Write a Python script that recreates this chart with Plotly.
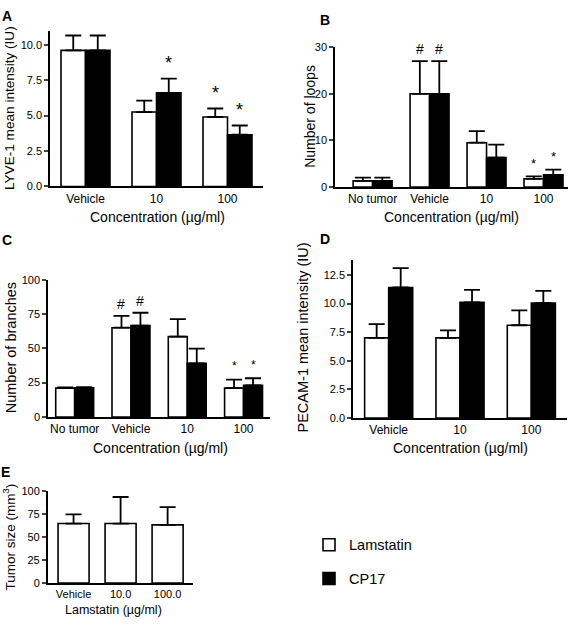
import plotly.graph_objects as go

# ---------------- data ----------------
a_cats = ["Vehicle", "10", "100"]
a_lam = [9.6, 5.25, 4.9]
a_lam_sem = [1.05, 0.8, 0.6]
a_cp17 = [9.6, 6.6, 3.65]
a_cp17_sem = [1.05, 1.0, 0.65]

b_cats = ["No tumor", "Vehicle", "10", "100"]
b_lam = [1.3, 20.0, 9.5, 1.75]
b_lam_sem = [0.7, 7.0, 2.5, 0.5]
b_cp17 = [1.3, 20.0, 6.3, 2.6]
b_cp17_sem = [0.7, 7.0, 2.8, 1.1]

c_cats = ["No tumor", "Vehicle", "10", "100"]
c_lam = [21.0, 65.0, 58.5, 21.0]
c_lam_sem = [0.5, 8.6, 12.7, 6.2]
c_cp17 = [21.2, 66.5, 39.0, 23.0]
c_cp17_sem = [0.5, 9.4, 10.8, 5.2]

d_cats = ["Vehicle", "10", "100"]
d_lam = [7.0, 7.0, 8.1]
d_lam_sem = [1.2, 0.65, 1.3]
d_cp17 = [11.4, 10.1, 10.05]
d_cp17_sem = [1.7, 1.1, 1.05]

e_cats = ["Vehicle", "10.0", "100.0"]
e_lam = [65.0, 65.0, 63.5]
e_lam_sem = [10.0, 29.0, 19.5]

# significance marks: (category, series, symbol)
a_marks = [("10", "cp17", "*"), ("100", "lam", "*"), ("100", "cp17", "*")]
b_marks = [("Vehicle", "lam", "#"), ("Vehicle", "cp17", "#"), ("100", "lam", "*"), ("100", "cp17", "*")]
c_marks = [("Vehicle", "lam", "#"), ("Vehicle", "cp17", "#"), ("100", "lam", "*"), ("100", "cp17", "*")]

# ---------------- layout helpers ----------------
W, H = 572, 625
FONT = "Liberation Sans, Arial, Helvetica, sans-serif"


def xd(a, b):
    return [a / W, b / W]


def yd(top, bottom):
    return [1 - bottom / H, 1 - top / H]


fig = go.Figure()

panels = {
    "A": dict(ax="", xdom=(50, 263), ydom=(25, 184), xr=[-0.5, 2.5], yr=[0, 11], dtick=2.5, fmt=".1f", bw=0.345),
    "B": dict(ax="2", xdom=(335, 568), ydom=(42, 184.5), xr=[-0.66, 3.43], yr=[0, 30], dtick=10, fmt="d", bw=0.342),
    "C": dict(ax="3", xdom=(48, 270), ydom=(279, 419), xr=[-0.474, 3.47], yr=[0, 100], dtick=25, fmt="d", bw=0.337),
    "D": dict(ax="4", xdom=(353, 567), ydom=(259, 420), xr=[-0.5, 2.5], yr=[0, 13.8], dtick=2.5, fmt=".1f", bw=0.337),
    "E": dict(ax="5", xdom=(47.7, 193), ydom=(495, 588.3), xr=[-0.55, 2.54], yr=[0, 100], dtick=25, fmt="d", bw=0.66),
}

LINE = dict(color="black", width=1.6)


def err(sem):
    return dict(type="data", symmetric=False, array=sem, arrayminus=[0] * len(sem),
                color="black", thickness=1.8, width=8)


def pair(key, cats, lam, lam_sem, cp, cp_sem, legend=False):
    p = panels[key]
    w = p["bw"]
    fig.add_trace(go.Bar(x=cats, y=lam, width=w, offset=-w, name="Lamstatin",
                         marker=dict(color="white", line=LINE), error_y=err(lam_sem),
                         xaxis="x" + p["ax"], yaxis="y" + p["ax"], showlegend=legend,
                         legendgroup="lam"))
    fig.add_trace(go.Bar(x=cats, y=cp, width=w, offset=0, name="CP17",
                         marker=dict(color="black", line=LINE), error_y=err(cp_sem),
                         xaxis="x" + p["ax"], yaxis="y" + p["ax"], showlegend=legend,
                         legendgroup="cp"))


pair("A", a_cats, a_lam, a_lam_sem, a_cp17, a_cp17_sem, legend=True)
pair("B", b_cats, b_lam, b_lam_sem, b_cp17, b_cp17_sem)
pair("C", c_cats, c_lam, c_lam_sem, c_cp17, c_cp17_sem)
pair("D", d_cats, d_lam, d_lam_sem, d_cp17, d_cp17_sem)

pe = panels["E"]
fig.add_trace(go.Bar(x=e_cats, y=e_lam, width=pe["bw"], name="Lamstatin",
                     marker=dict(color="white", line=LINE), error_y=err(e_lam_sem),
                     xaxis="x5", yaxis="y5", showlegend=False))

layout = dict(
    width=W, height=H, margin=dict(l=0, r=0, t=0, b=0),
    paper_bgcolor="white", plot_bgcolor="white",
    font=dict(family=FONT, color="black", size=11),
    barmode="overlay",
    showlegend=True,
    hovermode=False,
    legend=dict(x=309 / W, y=1 - 533 / H, xanchor="left", yanchor="top",
                font=dict(size=14.5, family=FONT), tracegroupgap=12,
                bgcolor="rgba(0,0,0,0)"),
)

for key, p in panels.items():
    ax = p["ax"]
    layout["xaxis" + ax] = dict(
        domain=xd(*p["xdom"]), anchor="y" + ax, type="category", range=p["xr"],
        showline=True, linecolor="black", linewidth=1.5, showgrid=False, zeroline=False,
        ticks="", tickfont=dict(size=12 if key != "E" else 11), fixedrange=True)
    layout["yaxis" + ax] = dict(
        domain=yd(*p["ydom"]), anchor="x" + ax, range=p["yr"], dtick=p["dtick"], tick0=0,
        tickformat=p["fmt"], showline=True, linecolor="black", linewidth=1.5,
        showgrid=False, zeroline=False, ticks="outside", ticklen=4, tickwidth=1.5,
        tickfont=dict(size=11), fixedrange=True)

fig.update_layout(**layout)

ann = []


def txt(x, y, text, size, bold=False, angle=0):
    ann.append(dict(x=x / W, y=1 - y / H, xref="paper", yref="paper",
                    text=("<b>%s</b>" % text) if bold else text,
                    showarrow=False, xanchor="center", yanchor="middle", textangle=angle,
                    font=dict(size=size, family=FONT, color="black")))


# panel letters
txt(7, 10, "A", 14, bold=True)
txt(325, 14, "B", 14, bold=True)
txt(7, 239, "C", 14, bold=True)
txt(325, 238, "D", 14, bold=True)
txt(5, 475, "E", 14, bold=True)

# axis titles
txt(157, 215, "Concentration (µg/ml)", 14)
txt(451, 215, "Concentration (µg/ml)", 14)
txt(160, 451, "Concentration (µg/ml)", 14)
txt(460, 451, "Concentration (µg/ml)", 14)
txt(113, 616, "Lamstatin (µg/ml)", 12.5)
txt(9, 104, "LYVE-1 mean intensity (IU)", 13.6, angle=-90)
txt(310, 113, "Number of loops", 14, angle=-90)
txt(11, 349, "Number of branches", 14.5, angle=-90)
txt(303, 338, "PECAM-1 mean intensity (IU)", 14.5, angle=-90)
txt(9, 542, "Tumor size (mm<sup>3</sup>)", 13.5, angle=-90)


def marks(key, lst, lam, lam_sem, cp, cp_sem, cats, star_size, hash_size, star_off, hash_off):
    p = panels[key]
    slot_px = (p["xdom"][1] - p["xdom"][0]) / (p["xr"][1] - p["xr"][0])
    half = p["bw"] * slot_px / 2
    for cat, ser, sym in lst:
        i = cats.index(cat)
        if ser == "lam":
            top, dx = lam[i] + lam_sem[i], -half
        else:
            top, dx = cp[i] + cp_sem[i], half
        fs = star_size if sym == "*" else hash_size
        off = star_off - 0.23 * fs if sym == "*" else hash_off
        ann.append(dict(x=i, y=top, xref="x" + p["ax"], yref="y" + p["ax"], text=sym,
                        showarrow=False, xanchor="center", yanchor="middle",
                        xshift=dx, yshift=off, font=dict(size=fs, family=FONT, color="black")))


marks("A", a_marks, a_lam, a_lam_sem, a_cp17, a_cp17_sem, a_cats, 18, 14, 20, 12)
marks("B", b_marks, b_lam, b_lam_sem, b_cp17, b_cp17_sem, b_cats, 13, 14, 16, 12)
marks("C", c_marks, c_lam, c_lam_sem, c_cp17, c_cp17_sem, c_cats, 12, 14, 16, 12)

fig.update_layout(annotations=ann)
fig.write_html("out.html", config={"displayModeBar": False},
               post_script="document.body.style.margin='0';")
